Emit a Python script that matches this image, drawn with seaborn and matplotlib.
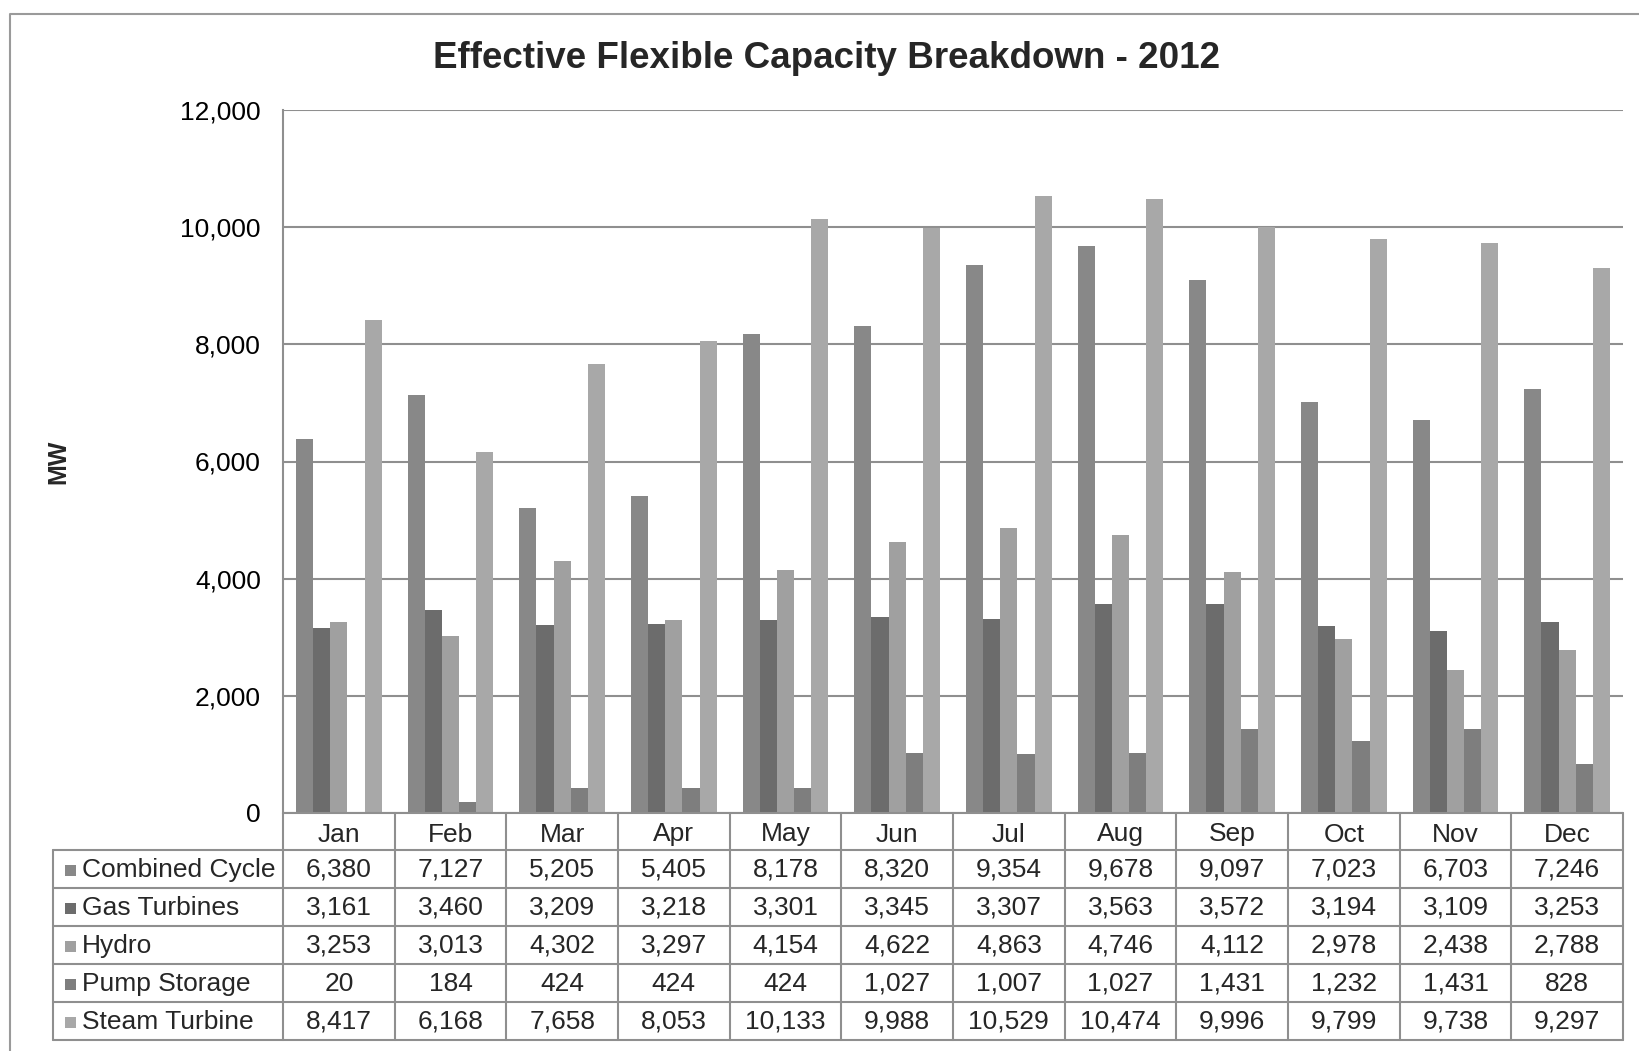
import numpy as np
import pandas as pd
import matplotlib
matplotlib.use("Agg")
import matplotlib.pyplot as plt
import matplotlib.transforms as mtransforms
from matplotlib.lines import Line2D
from matplotlib.patches import Rectangle
import seaborn as sns

# ---- data (MW) ----
months = ["Jan", "Feb", "Mar", "Apr", "May", "Jun",
          "Jul", "Aug", "Sep", "Oct", "Nov", "Dec"]
series_names = ["Combined Cycle", "Gas Turbines", "Hydro",
                "Pump Storage", "Steam Turbine"]
combined_cycle = [6380, 7127, 5205, 5405, 8178, 8320, 9354, 9678, 9097, 7023, 6703, 7246]
gas_turbines = [3161, 3460, 3209, 3218, 3301, 3345, 3307, 3563, 3572, 3194, 3109, 3253]
hydro = [3253, 3013, 4302, 3297, 4154, 4622, 4863, 4746, 4112, 2978, 2438, 2788]
pump_storage = [20, 184, 424, 424, 424, 1027, 1007, 1027, 1431, 1232, 1431, 828]
steam_turbine = [8417, 6168, 7658, 8053, 10133, 9988, 10529, 10474, 9996, 9799, 9738, 9297]
y_ticks = [0, 2000, 4000, 6000, 8000, 10000, 12000]

series_values = [combined_cycle, gas_turbines, hydro, pump_storage, steam_turbine]
series_colors = ["#888888", "#6c6c6c", "#a0a0a0", "#7e7e7e", "#a8a8a8"]

df = pd.DataFrame(
    [(m, name, v) for name, vals in zip(series_names, series_values)
     for m, v in zip(months, vals)],
    columns=["Month", "Series", "MW"],
)

# ---- figure setup ----
sns.set_theme(style="white")
plt.rcParams["font.family"] = ["Liberation Sans", "DejaVu Sans"]

W, H = 1639, 1051
fig = plt.figure(figsize=(W / 100, H / 100), dpi=100)
fig.patch.set_facecolor("white")


def fx(px):
    return px / W


def fy(py):
    return 1 - py / H


LINE = "#8f8f8f"
LW = 1.5

plot_l, plot_r, plot_t, plot_b = 283, 1623, 110, 813
ax = fig.add_axes([fx(plot_l), fy(plot_b), fx(plot_r - plot_l), (plot_b - plot_t) / H])

sns.barplot(data=df, x="Month", y="MW", hue="Series", order=months,
            hue_order=series_names, palette=series_colors, width=0.77,
            saturation=1, linewidth=0, errorbar=None, legend=False, ax=ax)

ax.set_xlim(-0.5, len(months) - 0.5)
ax.set_ylim(0, 12000)
ax.set_yticks(y_ticks)
ax.set_yticklabels([f"{v:,}" for v in y_ticks], fontsize=19, color="black")
ax.tick_params(axis="y", length=0, pad=16)
ax.set_xticks([])
ax.set_xlabel("")
ax.set_ylabel("")
ax.yaxis.grid(True, color=LINE, linewidth=LW)
ax.set_axisbelow(True)
for side in ["right", "bottom", "top"]:
    ax.spines[side].set_visible(False)
ax.spines["left"].set_color(LINE)
ax.spines["left"].set_linewidth(LW)

# ---- titles ----
fig.text(fx(827), fy(58), "Effective Flexible Capacity Breakdown - 2012",
         ha="center", va="center", fontsize=26.5, fontweight="bold")
fig.text(fx(58), fy(462), "MW", ha="center", va="center", rotation=90,
         fontsize=18, fontweight="bold")

# ---- outer chart frame ----
fig.add_artist(Line2D([fx(10), fx(10), fx(W + 5)], [fy(H + 5), fy(14), fy(14)],
                      color="#9a9a9a", linewidth=LW))

# ---- data table beneath the axis ----
mixed = mtransforms.blended_transform_factory(ax.transData, fig.transFigure)
table_left = 53
row_edges = [813, 850, 888, 926, 964, 1002, 1040]
fs = 19

# horizontal rules
fig.add_artist(Line2D([fx(plot_l), fx(plot_r)], [fy(row_edges[0])] * 2,
                      color=LINE, linewidth=LW))
for yb in row_edges[1:]:
    fig.add_artist(Line2D([fx(table_left), fx(plot_r)], [fy(yb)] * 2,
                          color=LINE, linewidth=LW))
# vertical rules between month columns (category edges in data coordinates)
for k in range(len(months) + 1):
    ax.add_artist(Line2D([k - 0.5, k - 0.5], [fy(row_edges[0]), fy(row_edges[-1])],
                         transform=mixed, color=LINE, linewidth=LW, clip_on=False))
fig.add_artist(Line2D([fx(table_left)] * 2, [fy(row_edges[1]), fy(row_edges[-1])],
                      color=LINE, linewidth=LW))

# month header row
hdr_y = fy((row_edges[0] + row_edges[1]) / 2 + 3)
for k, m in enumerate(months):
    ax.text(k, hdr_y, m, transform=mixed, ha="center", va="center",
            fontsize=fs, clip_on=False)

# series rows: legend key, name, values
for r, (name, vals, col) in enumerate(zip(series_names, series_values, series_colors)):
    yc = (row_edges[r + 1] + row_edges[r + 2]) / 2 + 1
    fig.add_artist(Rectangle((fx(65), fy(yc + 5.5)), 11 / W, 11 / H,
                             facecolor=col, edgecolor="none"))
    fig.text(fx(82), fy(yc), name, ha="left", va="center", fontsize=fs)
    for k, v in enumerate(vals):
        ax.text(k, fy(yc), f"{v:,}", transform=mixed, ha="center", va="center",
                fontsize=fs, clip_on=False)

fig.savefig("out.png", dpi=100)
